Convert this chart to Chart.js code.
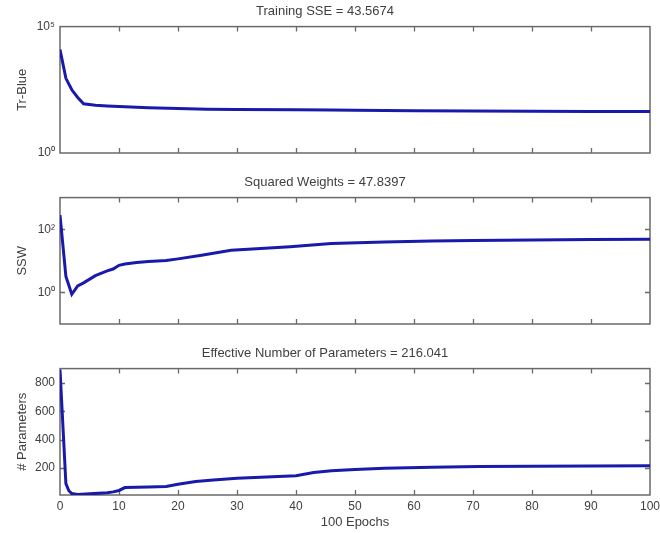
<!DOCTYPE html>
<html><head><meta charset="utf-8">
<script src="https://cdn.jsdelivr.net/npm/chart.js@4/dist/chart.umd.min.js"></script>
<style>
html,body{margin:0;padding:0;background:#fff;}
#wrap{position:relative;width:660px;height:533px;overflow:hidden;background:#fff;}
.p{position:absolute;left:0;width:660px;}
canvas{display:block;}
</style></head><body>
<div id="wrap">
  <div class="p" style="top:0;height:170px"><canvas id="c1" width="660" height="170"></canvas></div>
  <div class="p" style="top:171px;height:170px"><canvas id="c2" width="660" height="170"></canvas></div>
  <div class="p" style="top:342px;height:191px"><canvas id="c3" width="660" height="191"></canvas></div>
</div>
<script>
// ---- data ----
const sseEpochs = [0, 1, 2, 3, 4, 6, 8, 10, 12, 15, 20, 25, 30, 40, 46, 50, 60, 70, 80, 90, 100];
const sseValues = [12300, 900, 316, 158, 88, 78, 73, 69, 66, 62, 58, 54, 52, 51, 50.5, 49, 47, 46, 45, 44, 43.6];
const sseTicks = [1, 100000];
const sseTickLabels = ['10\u2070', '10\u2075'];

const sswEpochs = [0, 1, 2, 3, 4, 6, 8, 9, 10, 11, 13, 15, 18, 20, 24, 29, 34, 39, 46, 55, 63, 70, 80, 90, 100];
const sswValues = [277, 3.2, 0.87, 1.6, 2.0, 3.4, 4.8, 5.5, 7.2, 7.9, 8.8, 9.5, 10.2, 11.5, 15, 21.5, 24.4, 28, 35, 39, 42, 44, 45.5, 47, 47.8];
const sswTicks = [1, 100];
const sswTickLabels = ['10\u2070', '10\u00B2'];

const parEpochs = [0, 1, 1.5, 2, 3, 5, 8, 9, 10, 11, 15, 18, 20, 23, 26, 30, 35, 40, 43, 46, 50, 55, 63, 71, 80, 90, 100];
const parValues = [893, 90, 40, 20, 14, 18, 26, 32, 42, 62, 66, 70, 85, 105, 115, 128, 136, 145, 168, 180, 190, 198, 205, 210, 213, 215, 216];
const parTicks = [200, 400, 600, 800];
const parTickLabels = ['200', '400', '600', '800'];

const epochTicks = [0, 10, 20, 30, 40, 50, 60, 70, 80, 90, 100];
const epochTickLabels = ['0', '10', '20', '30', '40', '50', '60', '70', '80', '90', '100'];

const panelTitles = ['Training SSE = 43.5674', 'Squared Weights = 47.8397', 'Effective Number of Parameters = 216.041'];
const yTitles = ['Tr-Blue', 'SSW', '# Parameters'];
const xTitle = '100 Epochs';

// ---- styling ----
const FONT = 'Liberation Sans, Arial, Helvetica, sans-serif';
const TEXT = '#404040';
const BOX = '#6a6a6a';
const LINE = 'rgb(26,26,170)';

const boxPlugin = {
  id: 'mbox',
  beforeDatasetsDraw(chart) {
    const {ctx, chartArea: a, scales: {x, y}} = chart;
    ctx.save();
    ctx.strokeStyle = BOX;
    ctx.lineWidth = 1.5;
    ctx.strokeRect(a.left, a.top, a.right - a.left, a.bottom - a.top);
    ctx.lineWidth = 1.3;
    ctx.beginPath();
    x.ticks.forEach(t => {
      if (t.value <= x.min || t.value >= x.max) return;
      const px = Math.round(x.getPixelForValue(t.value)) + 0.5;
      ctx.moveTo(px, a.top); ctx.lineTo(px, a.top + 5);
      ctx.moveTo(px, a.bottom); ctx.lineTo(px, a.bottom - 5);
    });
    y.ticks.forEach(t => {
      if (t.value <= y.min || t.value >= y.max) return;
      const py = Math.round(y.getPixelForValue(t.value)) + 0.5;
      ctx.moveTo(a.left, py); ctx.lineTo(a.left + 5, py);
      ctx.moveTo(a.right, py); ctx.lineTo(a.right - 5, py);
    });
    ctx.stroke();
    ctx.restore();
  }
};

function makeChart(id, idx, xs, ys, yType, yMin, yMax, yTickVals, yTickLabels, showX) {
  const pts = xs.map((e, i) => ({x: e, y: ys[i]}));
  return new Chart(document.getElementById(id), {
    type: 'line',
    data: {datasets: [{data: pts, borderColor: LINE, borderWidth: 3, pointRadius: 0, tension: 0, fill: false}]},
    plugins: [boxPlugin],
    options: {
      responsive: false, animation: false, devicePixelRatio: 1,
      layout: {padding: {left: 0, right: 10, top: 0, bottom: showX ? 0 : 17}},
      plugins: {
        legend: {display: false}, tooltip: {enabled: false},
        title: {display: true, text: panelTitles[idx], color: TEXT,
                font: {family: FONT, size: 13, weight: 'normal'}, padding: {top: 4, bottom: 7}}
      },
      scales: {
        x: {
          type: 'linear', min: 0, max: 100,
          grid: {display: false, drawTicks: false}, border: {display: false},
          afterBuildTicks: s => { s.ticks = epochTicks.map(v => ({value: v})); },
          ticks: {display: showX, padding: 4, color: TEXT, font: {family: FONT, size: 12},
                  maxRotation: 0, autoSkip: false,
                  callback: (v, i) => epochTickLabels[i]},
          title: {display: showX, text: xTitle, color: TEXT, font: {family: FONT, size: 13}, padding: {top: 0, bottom: 3}},
          afterFit: s => { s.height = showX ? 38 : 0; s.paddingLeft = 0; s.paddingRight = 0; }
        },
        y: {
          type: yType, min: yMin, max: yMax,
          grid: {display: false, drawTicks: false}, border: {display: false},
          afterBuildTicks: s => { s.ticks = yTickVals.map(v => ({value: v})); },
          ticks: {padding: 5, color: TEXT, font: {family: FONT, size: 12}, autoSkip: false,
                  callback: (v, i) => yTickLabels[i]},
          title: {display: true, text: yTitles[idx], color: TEXT, font: {family: FONT, size: 13}, padding: {top: 15, bottom: 0}},
          afterFit: s => { s.width = 60; s.paddingTop = 0; s.paddingBottom = 0; }
        }
      }
    }
  });
}

makeChart('c1', 0, sseEpochs, sseValues, 'logarithmic', 1, 100000, sseTicks, sseTickLabels, false);
makeChart('c2', 1, sswEpochs, sswValues, 'logarithmic', 0.1, 1000, sswTicks, sswTickLabels, false);
makeChart('c3', 2, parEpochs, parValues, 'linear', 10, 900, parTicks, parTickLabels, true);
</script>
</body></html>
